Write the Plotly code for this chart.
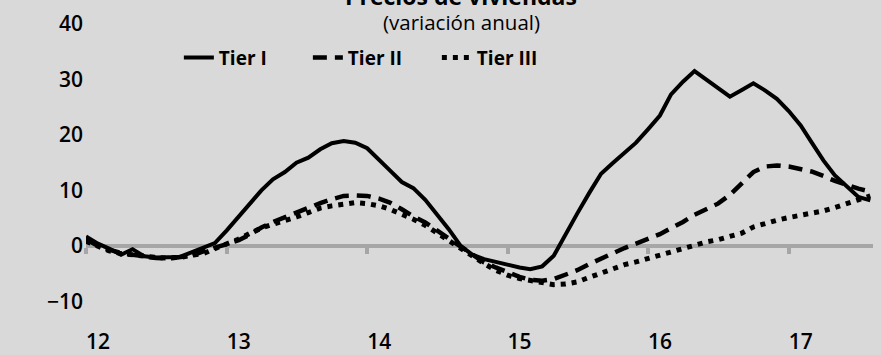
import pandas as pd
import plotly.graph_objects as go

months = pd.date_range("2012-01-01", periods=68, freq="MS")

tier1 = [1.7, 0.4, -0.5, -1.6, -0.6, -1.9, -2.1, -2.1, -2.0, -1.2, -0.4, 0.5,
         2.8, 5.3, 7.6, 10.0, 12.0, 13.3, 15.0, 15.9, 17.4, 18.5, 18.9, 18.6,
         17.6, 15.6, 13.6, 11.5, 10.4, 8.3, 5.8, 3.0, 0.0, -1.6, -2.4, -2.9,
         -3.5, -3.9, -4.2, -3.7, -1.8, 2.2, 5.8, 9.5, 13.0, 14.9, 16.8, 18.6,
         21.0, 23.5, 27.3, 29.6, 31.5, 29.9, 28.4, 26.9, 28.1, 29.3, 28.0, 26.5,
         24.3, 21.7, 18.7, 15.4, 12.7, 10.6, 8.8, 8.2]

tier2 = [1.2, 0.0, -0.7, -1.3, -1.6, -2.0, -2.2, -2.3, -2.1, -1.8, -1.0, -0.3,
         0.4, 1.0, 2.0, 3.3, 4.3, 5.2, 6.0, 7.0, 7.7, 8.4, 9.0, 9.1,
         9.0, 8.5, 7.8, 6.6, 5.3, 4.2, 2.8, 1.2, -0.3, -1.7, -3.0, -3.9,
         -4.7, -5.6, -6.1, -6.3, -6.0, -5.2, -4.4, -3.3, -2.3, -1.3, -0.4, 0.4,
         1.2, 2.1, 3.2, 4.3, 5.6, 6.6, 7.6, 9.2, 11.2, 13.3, 14.3, 14.5,
         14.3, 13.9, 13.4, 12.6, 11.7, 11.0, 10.3, 9.8]

tier3 = [0.8, -0.2, -0.9, -1.4, -1.7, -2.0, -2.1, -2.2, -2.1, -1.7, -1.4, -0.5,
         0.3, 1.2, 2.2, 3.2, 3.9, 4.5, 5.2, 6.0, 6.8, 7.2, 7.6, 7.8,
         7.6, 7.2, 6.6, 5.8, 4.8, 3.7, 2.3, 0.9, -0.6, -2.0, -3.2, -4.4,
         -5.3, -5.9, -6.2, -6.6, -7.0, -6.9, -6.5, -5.7, -4.9, -4.2, -3.4, -2.9,
         -2.3, -1.6, -1.2, -0.6, 0.2, 0.7, 1.1, 1.7, 2.3, 3.4, 4.1, 4.6,
         5.1, 5.5, 5.9, 6.3, 6.9, 7.5, 8.3, 9.0]

series_names = ["Tier I", "Tier II", "Tier III"]
y_ticks = [-10, 0, 10, 20, 30, 40]
x_tick_years = pd.date_range("2012-01-01", periods=6, freq="YS")

title = "Precios de viviendas"
subtitle = "(variación anual)"

BG = "#d9d9d9"
FONT = "Open Sans"

fig = go.Figure()
fig.add_trace(go.Scatter(x=months, y=tier1, mode="lines", name=series_names[0],
                         line=dict(color="black", width=4)))
fig.add_trace(go.Scatter(x=months, y=tier2, mode="lines", name=series_names[1],
                         line=dict(color="black", width=4.5, dash="14px,8px")))
fig.add_trace(go.Scatter(x=months, y=tier3, mode="lines", name=series_names[2],
                         line=dict(color="black", width=5, dash="5px,6px")))

y_min, y_max = -15, 40
zero_pos = (0 - y_min) / (y_max - y_min)

fig.update_layout(
    width=881, height=355,
    margin=dict(l=86, r=8, t=24, b=26, autoexpand=False),
    paper_bgcolor=BG, plot_bgcolor=BG,
    font=dict(family=FONT, color="black", size=19),
    showlegend=True,
    legend=dict(orientation="h", x=0.118, xanchor="left", y=0.89, yanchor="middle",
                bgcolor="rgba(0,0,0,0)", font=dict(size=19, weight=700),
                entrywidth=84, tracegroupgap=0),
    xaxis=dict(
        type="date",
        range=["2012-01-01", "2017-08-08"],
        anchor="free", position=zero_pos, automargin=False,
        showline=True, linecolor="#a6a6a6", linewidth=4,
        ticks="outside", ticklen=6, tickwidth=4, tickcolor="#a6a6a6",
        tickvals=x_tick_years, tickformat="%y",
        ticklabelstandoff=70, ticklabelshift=12,
        tickfont=dict(size=21, weight=600),
        showgrid=False, zeroline=False, layer="below traces",
    ),
    yaxis=dict(
        range=[y_min, y_max], tickvals=y_ticks, automargin=False,
        showgrid=False, zeroline=False, showline=False,
        ticks="", ticklabelstandoff=2,
        tickfont=dict(size=21, weight=600),
    ),
    annotations=[
        dict(text=title, xref="paper", yref="paper", x=0.4765, y=1.092,
             xanchor="center", yanchor="middle", showarrow=False,
             font=dict(size=23, weight=700)),
        dict(text=subtitle, xref="paper", yref="paper", x=0.4765, y=1.0066,
             xanchor="center", yanchor="middle", showarrow=False,
             font=dict(size=20.5)),
    ],
)

fig.write_html("out.html")
